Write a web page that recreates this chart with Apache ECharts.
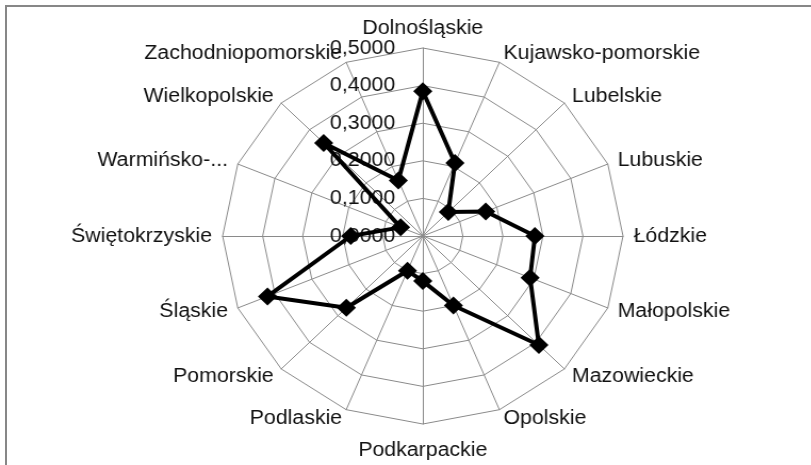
<!DOCTYPE html>
<html>
<head>
<meta charset="utf-8">
<script src="https://cdn.jsdelivr.net/npm/echarts@6/dist/echarts.min.js"></script>
<style>
  html, body { margin: 0; padding: 0; background: #fff; overflow: hidden; }
  body { width: 811px; height: 465px; position: relative; }
  /* cadre gris : seuls les bords haut et gauche sont visibles */
  #frame { position: absolute; left: 5px; top: 5px; width: 840px; height: 500px;
           border-top: 2px solid #878787; border-left: 2px solid #878787; }
  /* le graphique d'origine est étiré horizontalement (~6,5 %) */
  #chart { position: absolute; left: 0; top: 0; width: 762px; height: 465px;
           transform: scaleX(1.065); transform-origin: 0 0; }
</style>
</head>
<body>
<div id="frame"></div>
<div id="chart"></div>
<script>
// Voïvodies, dans le sens horaire à partir du haut
const categories = [
  'Dolnośląskie', 'Kujawsko-pomorskie', 'Lubelskie', 'Lubuskie', 'Łódzkie',
  'Małopolskie', 'Mazowieckie', 'Opolskie', 'Podkarpackie', 'Podlaskie',
  'Pomorskie', 'Śląskie', 'Świętokrzyskie', 'Warmińsko-...', 'Wielkopolskie',
  'Zachodniopomorskie'
];
const values = [
  0.385, 0.21, 0.09, 0.17, 0.28,
  0.29, 0.41, 0.20, 0.12, 0.10,
  0.27, 0.42, 0.18, 0.06, 0.35,
  0.16
];
const axisMin = 0;
const axisMax = 0.5;

// ECharts place les indicateurs dans le sens anti-horaire : on inverse la suite
const order = [0, ...categories.map((_, i) => i).slice(1).reverse()];

const fmt = (v) => v.toFixed(4).replace('.', ',');
const FONT = "'Liberation Sans', Arial, sans-serif";

const chart = echarts.init(document.getElementById('chart'), null, { renderer: 'canvas' });
chart.setOption({
  backgroundColor: 'transparent',
  animation: false,
  radar: {
    center: [397, 236],
    radius: 188,
    startAngle: 90,
    splitNumber: 5,
    shape: 'polygon',
    nameGap: 10,
    axisName: { color: '#111', fontSize: 20, fontFamily: FONT },
    indicator: order.map((i, k) => ({
      name: categories[i], min: axisMin, max: axisMax,
      // l'étiquette du bas est un peu plus basse dans l'original
      nameTextStyle: categories[i] === 'Podkarpackie' ? { padding: [6, 0, 0, 0] } : {},
      // graduations seulement sur l'axe vertical
      axisLabel: k === 0
        ? { show: true, margin: 26, color: '#111', fontSize: 20, fontFamily: FONT, formatter: fmt }
        : { show: false }
    })),
    axisLine: { lineStyle: { color: '#8a8a8a', width: 1 } },
    splitLine: { lineStyle: { color: '#8a8a8a', width: 1 } },
    splitArea: { show: false },
    axisTick: { show: false }
  },
  series: [{
    type: 'radar',
    symbol: 'diamond',
    symbolSize: 18,
    lineStyle: { color: '#000', width: 4 },
    itemStyle: { color: '#000' },
    data: [{ value: order.map((i) => values[i]) }]
  }]
});
</script>
</body>
</html>
